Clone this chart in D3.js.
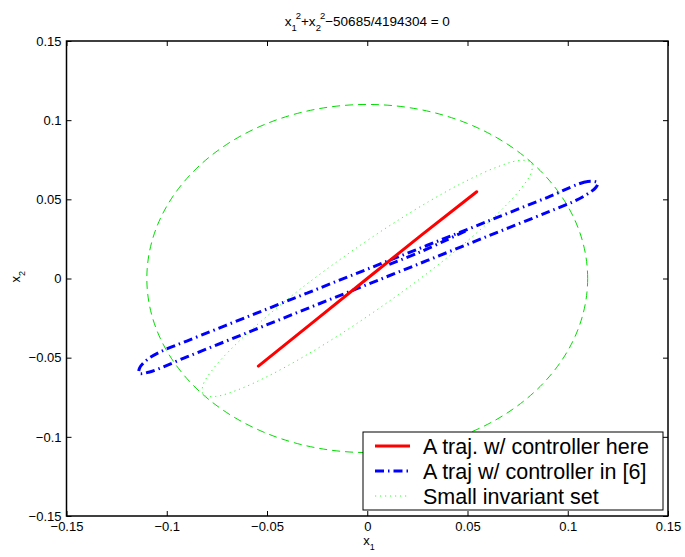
<!DOCTYPE html>
<html>
<head>
<meta charset="utf-8">
<script src="https://cdn.jsdelivr.net/npm/d3@7"></script>
<style>
  body { margin: 0; background: #fff; }
  svg { font-family: "Liberation Sans", Arial, sans-serif; }
</style>
</head>
<body>
<svg id="chart" width="685" height="557"></svg>
<script>
// level set from the title: x1^2 + x2^2 = 50685/4194304
var levelNum = 50685, levelDen = 4194304;

// ticks
var xTicks = [-0.15, -0.1, -0.05, 0, 0.05, 0.1, 0.15];
var xTickLabels = ["\u22120.15", "\u22120.1", "\u22120.05", "0", "0.05", "0.1", "0.15"];
var yTicks = [-0.15, -0.1, -0.05, 0, 0.05, 0.1, 0.15];
var yTickLabels = ["\u22120.15", "\u22120.1", "\u22120.05", "0", "0.05", "0.1", "0.15"];

// trajectory with the controller here (red)
var redX = [-0.0543, -0.027, 0, 0.027, 0.0546];
var redY = [-0.0553, -0.0276, 0, 0.0274, 0.0548];

// trajectory with the controller in [6] (blue): short start, then the closed loop
var blueStartX = [0.0110, 0.0250, 0.0400, 0.0500];
var blueStartY = [0.0089, 0.0160, 0.0246, 0.0306];
var blueX = [0.1150, 0.1100, 0.0900, 0.0600, 0.0300, 0.0000, -0.0300, -0.0600, -0.0900, -0.1030, -0.1100, -0.1135,
             -0.1138, -0.1090, -0.0900, -0.0600, -0.0300, 0.0000, 0.0300, 0.0600, 0.0900, 0.1030, 0.1100, 0.1140];
var blueY = [0.0603, 0.0613, 0.0513, 0.0361, 0.0210, 0.0059, -0.0092, -0.0243, -0.0395, -0.0462, -0.0515, -0.0565,
             -0.0598, -0.0592, -0.0495, -0.0343, -0.0190, -0.0038, 0.0114, 0.0267, 0.0419, 0.0487, 0.0535, 0.0575];

// small invariant set (green dotted, closed)
var setX = [0.0817, 0.0758, 0.0647, 0.0492, 0.0304, 0.0095, -0.0120, -0.0328, -0.0513, -0.0663, -0.0768, -0.0820,
            -0.0817, -0.0758, -0.0647, -0.0492, -0.0304, -0.0095, 0.0120, 0.0328, 0.0513, 0.0663, 0.0768, 0.0820];
var setY = [0.0735, 0.0745, 0.0704, 0.0615, 0.0484, 0.0320, 0.0134, -0.0061, -0.0252, -0.0425, -0.0570, -0.0676,
            -0.0735, -0.0745, -0.0704, -0.0615, -0.0484, -0.0320, -0.0134, 0.0061, 0.0252, 0.0425, 0.0570, 0.0676];

var legendLabels = ["A traj. w/ controller here", "A traj w/ controller in [6]", "Small invariant set"];

var svg = d3.select("#chart");
var plotLeft = 66.5, plotRight = 668, plotTop = 41, plotBottom = 516;

var x = d3.scaleLinear().domain([-0.15, 0.15]).range([plotLeft, plotRight]);
var y = d3.scaleLinear().domain([-0.15, 0.15]).range([plotBottom, plotTop]);

function pts(xs, ys) {
    return xs.map(function (d, i) { return [d, ys[i]]; });
}

var line = d3.line()
    .x(function (d) { return x(d[0]); })
    .y(function (d) { return y(d[1]); });

var smooth = d3.line()
    .x(function (d) { return x(d[0]); })
    .y(function (d) { return y(d[1]); })
    .curve(d3.curveCatmullRom.alpha(0.5));

var loop = d3.line()
    .x(function (d) { return x(d[0]); })
    .y(function (d) { return y(d[1]); })
    .curve(d3.curveCatmullRomClosed.alpha(0.5));

var plot = svg.append("g").attr("class", "plot");

// circle x1^2+x2^2 = r^2
var r = Math.sqrt(levelNum / levelDen);
plot.append("ellipse")
    .attr("cx", x(0))
    .attr("cy", y(0))
    .attr("rx", x(r) - x(0))
    .attr("ry", y(0) - y(r))
    .attr("fill", "none")
    .attr("stroke", "#00dd00")
    .attr("stroke-width", 1)
    .attr("stroke-dasharray", "8,5");

// invariant set
plot.append("path")
    .attr("d", loop(pts(setX, setY)))
    .attr("fill", "none")
    .attr("stroke", "#33ff33")
    .attr("stroke-width", 1)
    .attr("stroke-dasharray", "1.2,3.8");

// blue trajectory
plot.append("path")
    .attr("d", smooth(pts(blueStartX, blueStartY)))
    .attr("fill", "none")
    .attr("stroke", "#0000ff")
    .attr("stroke-width", 3)
    .attr("stroke-dasharray", "9,4,1.5,4");

plot.append("path")
    .attr("d", loop(pts(blueX, blueY)))
    .attr("fill", "none")
    .attr("stroke", "#0000ff")
    .attr("stroke-width", 3)
    .attr("stroke-dasharray", "9,4,1.5,4");

// red trajectory
plot.append("path")
    .attr("d", line(pts(redX, redY)))
    .attr("fill", "none")
    .attr("stroke", "#ff0000")
    .attr("stroke-width", 3)
    .attr("stroke-linecap", "round");

// axes (inward ticks all round)
var fmtX = function (d) { return xTickLabels[xTicks.indexOf(d)]; };
var fmtY = function (d) { return yTickLabels[yTicks.indexOf(d)]; };

var xAxis = svg.append("g")
    .attr("class", "axis axis--x")
    .attr("transform", "translate(0," + plotBottom + ")")
    .call(d3.axisBottom(x).tickValues(xTicks).tickFormat(fmtX).tickSizeInner(-5).tickSizeOuter(0).tickPadding(6));

var yAxis = svg.append("g")
    .attr("class", "axis axis--y")
    .attr("transform", "translate(" + plotLeft + ",0)")
    .call(d3.axisLeft(y).tickValues(yTicks).tickFormat(fmtY).tickSizeInner(-5).tickSizeOuter(0).tickPadding(5));

svg.append("g")
    .attr("transform", "translate(0," + plotTop + ")")
    .call(d3.axisTop(x).tickValues(xTicks).tickFormat("").tickSizeInner(-5).tickSizeOuter(0));

svg.append("g")
    .attr("transform", "translate(" + plotRight + ",0)")
    .call(d3.axisRight(y).tickValues(yTicks).tickFormat("").tickSizeInner(-5).tickSizeOuter(0));

svg.selectAll(".tick line").attr("stroke", "#000").attr("stroke-width", 1);
svg.selectAll(".domain").remove();
svg.selectAll(".axis text")
    .attr("font-size", 13)
    .attr("font-family", "Liberation Sans, Arial, sans-serif")
    .attr("fill", "#000");

svg.append("rect")
    .attr("x", plotLeft)
    .attr("y", plotTop)
    .attr("width", plotRight - plotLeft)
    .attr("height", plotBottom - plotTop)
    .attr("fill", "none")
    .attr("stroke", "#000")
    .attr("stroke-width", 1.5);

// axis labels
var xl = svg.append("text")
    .attr("x", x(0) - 4)
    .attr("y", 545)
    .attr("font-size", 13);
xl.append("tspan").text("x");
xl.append("tspan").attr("font-size", 9).attr("dy", 5).text("1");

var yl = svg.append("text")
    .attr("transform", "translate(20," + (y(0) + 4) + ")rotate(-90)")
    .attr("font-size", 13);
yl.append("tspan").text("x");
yl.append("tspan").attr("font-size", 9).attr("dy", 5).text("2");

// title
var title = svg.append("text")
    .attr("x", (plotLeft + plotRight) / 2)
    .attr("y", 26)
    .attr("text-anchor", "middle")
    .attr("font-size", 13.5);
title.append("tspan").text("x");
title.append("tspan").attr("font-size", 9.5).attr("dy", 5).text("1");
title.append("tspan").attr("font-size", 9.5).attr("dy", -12).attr("dx", -1).text("2");
title.append("tspan").attr("dy", 7).text("+x");
title.append("tspan").attr("font-size", 9.5).attr("dy", 5).text("2");
title.append("tspan").attr("font-size", 9.5).attr("dy", -12).attr("dx", -1).text("2");
title.append("tspan").attr("dy", 7).text("\u221250685/4194304 = 0");

// legend
var legend = svg.append("g").attr("class", "legend");
legend.append("rect")
    .attr("x", 363)
    .attr("y", 432)
    .attr("width", 300)
    .attr("height", 78)
    .attr("fill", "#fff")
    .attr("stroke", "#000")
    .attr("stroke-width", 1);

var legendStyles = [
    {stroke: "#ff0000", width: 3, dash: null},
    {stroke: "#0000ff", width: 3, dash: "9,4,1.5,4"},
    {stroke: "#33ff33", width: 1, dash: "1.2,3.8"}
];

legendLabels.forEach(function (label, i) {
    var ly = 446 + i * 25;
    legend.append("line")
        .attr("x1", 375).attr("x2", 410)
        .attr("y1", ly).attr("y2", ly)
        .attr("stroke", legendStyles[i].stroke)
        .attr("stroke-width", legendStyles[i].width)
        .attr("stroke-dasharray", legendStyles[i].dash);
    legend.append("text")
        .attr("x", 423)
        .attr("y", ly + 8)
        .attr("font-size", 21.5)
        .text(label);
});
</script>
</body>
</html>
